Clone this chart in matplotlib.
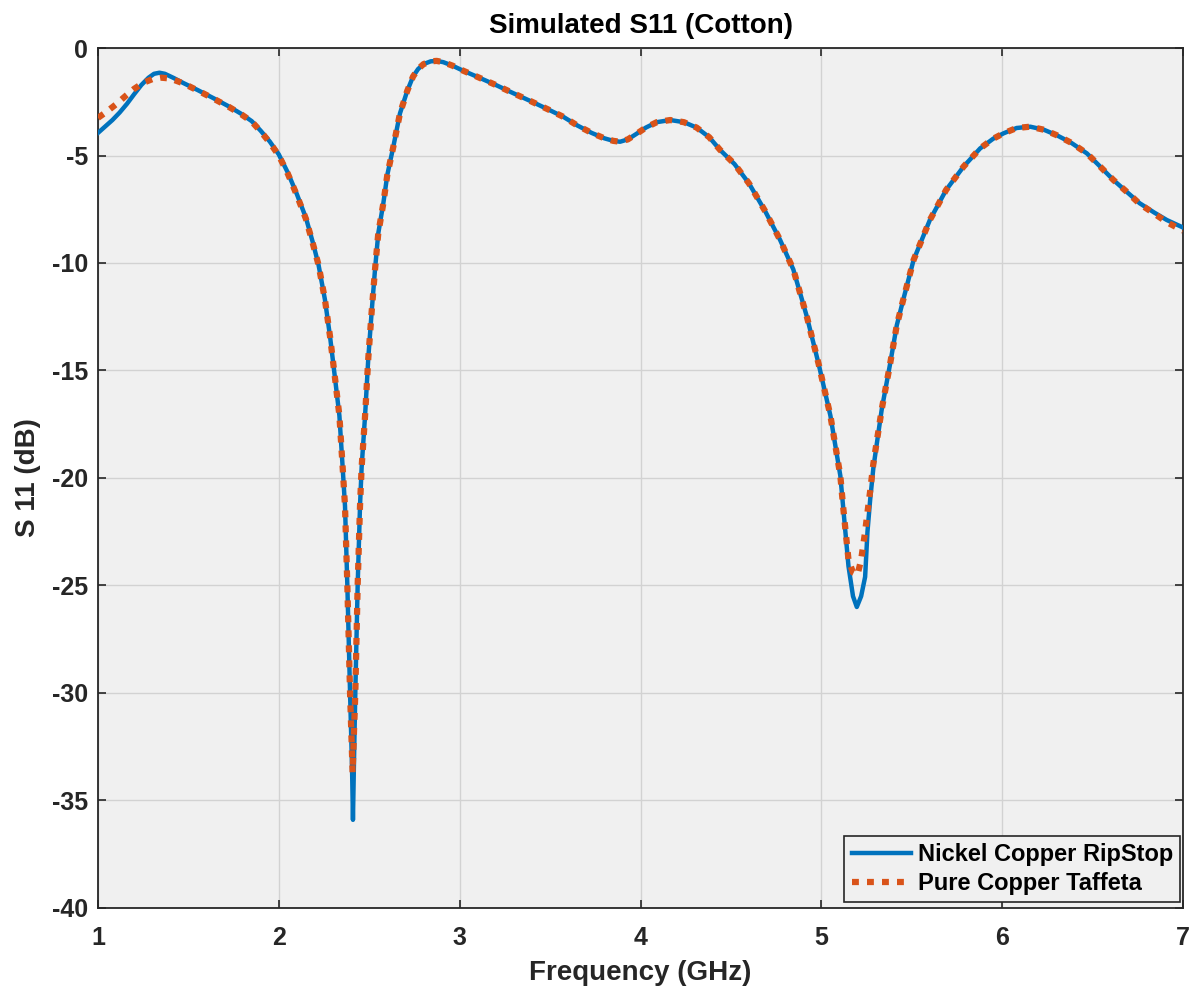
import numpy as np
import matplotlib.pyplot as plt

# Nickel Copper RipStop (solid blue)
freq_ncr = [1.00, 1.04, 1.08, 1.12, 1.16, 1.20, 1.24, 1.28, 1.31, 1.34, 1.37, 1.42, 1.47,
            1.55, 1.64, 1.72, 1.79, 1.85, 1.90, 1.95, 2.00, 2.05, 2.10, 2.15, 2.19, 2.22,
            2.255, 2.283, 2.31, 2.335, 2.353, 2.366, 2.379, 2.394, 2.405, 2.41, 2.415,
            2.423, 2.436, 2.449, 2.458, 2.477, 2.495, 2.514, 2.532, 2.55, 2.578, 2.60,
            2.633, 2.67, 2.71, 2.742, 2.77, 2.80, 2.84, 2.873, 2.91, 2.96, 3.01, 3.10,
            3.20, 3.296, 3.40, 3.50, 3.573, 3.65, 3.73, 3.80, 3.85, 3.887, 3.93, 3.98,
            4.03, 4.09, 4.164, 4.24, 4.31, 4.38, 4.44, 4.52, 4.60, 4.69, 4.772, 4.845,
            4.92, 4.985, 5.05, 5.105, 5.12, 5.15, 5.175, 5.196, 5.22, 5.242, 5.255, 5.27,
            5.288, 5.334, 5.38, 5.417, 5.453, 5.51, 5.60, 5.69, 5.786, 5.878, 5.95, 6.007,
            6.08, 6.155, 6.23, 6.30, 6.38, 6.468, 6.54, 6.615, 6.69, 6.76, 6.84, 6.91, 7.00]
s11_ncr = [-3.95, -3.65, -3.35, -3.0, -2.6, -2.15, -1.72, -1.38, -1.2, -1.15, -1.2, -1.4, -1.62,
           -1.95, -2.34, -2.7, -3.05, -3.4, -3.85, -4.35, -4.95, -5.8, -6.8, -7.9, -9.1, -10.1,
           -11.7, -13.4, -15.3, -17.1, -19.5, -21.3, -25.0, -30.0, -33.5, -35.9, -33.5,
           -30.0, -25.0, -21.3, -19.5, -17.1, -14.4, -12.2, -10.3, -8.62, -7.22, -5.9,
           -4.6, -3.04, -2.0, -1.33, -0.98, -0.75, -0.62, -0.6, -0.66, -0.82, -1.02, -1.35,
           -1.72, -2.1, -2.5, -2.9, -3.2, -3.6, -3.95, -4.2, -4.32, -4.36, -4.25, -3.98,
           -3.7, -3.45, -3.35, -3.45, -3.7, -4.15, -4.74, -5.4, -6.3, -7.6, -8.93, -10.3,
           -12.5, -14.7, -17.1, -19.9, -21.3, -24.1, -25.5, -26.0, -25.5, -24.6, -22.5, -21.0,
           -19.5, -16.8, -14.7, -12.9, -11.7, -9.86, -8.0, -6.6, -5.52, -4.67, -4.22, -3.97,
           -3.72, -3.66, -3.8, -4.05, -4.4, -4.9, -5.5, -6.14, -6.7, -7.22, -7.65, -8.0, -8.35]

# Pure Copper Taffeta (dotted orange)
freq_pct = [1.00, 1.05, 1.10, 1.15, 1.20, 1.25, 1.30, 1.35, 1.40, 1.47, 1.55, 1.64,
            1.72, 1.79, 1.85, 1.90, 1.95, 2.00, 2.05, 2.10, 2.15, 2.19, 2.22, 2.255,
            2.283, 2.31, 2.335, 2.353, 2.366, 2.379, 2.394, 2.408, 2.423,
            2.436, 2.449, 2.458, 2.477, 2.495, 2.514, 2.532, 2.55, 2.578, 2.60, 2.633,
            2.67, 2.71, 2.742, 2.77, 2.80, 2.84, 2.873, 2.91, 2.96, 3.01, 3.10, 3.20,
            3.296, 3.40, 3.50, 3.573, 3.65, 3.73, 3.80, 3.85, 3.887, 3.93, 3.98, 4.03,
            4.09, 4.164, 4.24, 4.31, 4.38, 4.44, 4.52, 4.60, 4.69, 4.772, 4.845, 4.92,
            4.985, 5.05, 5.105, 5.12, 5.15, 5.175, 5.20, 5.22, 5.242, 5.255, 5.27, 5.288,
            5.334, 5.38, 5.417, 5.453, 5.51, 5.60, 5.69, 5.786, 5.878, 5.95, 6.007, 6.08,
            6.155, 6.23, 6.30, 6.38, 6.468, 6.54, 6.615, 6.69, 6.76, 6.84, 6.91, 7.00]
s11_pct = [-3.25, -2.95, -2.62, -2.25, -1.9, -1.62, -1.45, -1.38, -1.42, -1.64, -1.97, -2.36,
           -2.72, -3.07, -3.42, -3.88, -4.4, -5.0, -5.85, -6.85, -7.95, -9.15, -10.1, -11.7,
           -13.4, -15.3, -17.1, -19.5, -21.3, -25.0, -30.0, -33.7, -30.0,
           -25.0, -21.3, -19.5, -17.1, -14.4, -12.2, -10.3, -8.62, -7.22, -5.9, -4.6,
           -3.04, -2.0, -1.33, -0.98, -0.75, -0.62, -0.6, -0.66, -0.82, -1.02, -1.35, -1.72,
           -2.1, -2.5, -2.9, -3.2, -3.6, -3.95, -4.2, -4.32, -4.36, -4.25, -3.98, -3.7,
           -3.45, -3.35, -3.45, -3.7, -4.15, -4.74, -5.4, -6.3, -7.6, -8.93, -10.3, -12.5,
           -14.7, -17.1, -19.9, -21.3, -23.8, -24.4, -24.5, -23.8, -22.5, -21.6, -20.6, -19.3,
           -16.8, -14.7, -12.9, -11.7, -9.86, -8.0, -6.6, -5.52, -4.67, -4.22, -3.97, -3.72,
           -3.66, -3.8, -4.05, -4.4, -4.9, -5.5, -6.14, -6.7, -7.25, -7.7, -8.1, -8.5]

labels = ['Nickel Copper RipStop', 'Pure Copper Taffeta']
x_ticks = [1, 2, 3, 4, 5, 6, 7]
y_ticks = [0, -5, -10, -15, -20, -25, -30, -35, -40]

plt.rcParams['font.family'] = ['Liberation Sans', 'DejaVu Sans']
plt.rcParams['font.weight'] = 'bold'
plt.rcParams['axes.unicode_minus'] = False

fig = plt.figure(figsize=(11.99, 9.98), dpi=100)
ax = fig.add_axes([0.0817, 0.0902, 0.905, 0.8617])
ax.set_facecolor('#f0f0f0')

ax.plot(freq_ncr, s11_ncr, color='#0072BD', lw=3.2, label=labels[0], zorder=3)
ax.plot(freq_pct, s11_pct, color='#D95319', lw=4.5, linestyle=(0, (1.1, 1.3)),
        label=labels[1], zorder=4)

ax.set_xlim(1, 7)
ax.set_ylim(-40, 0)
ax.set_xticks(x_ticks)
ax.set_yticks(y_ticks)
ax.grid(True, color='#d2d2d2', lw=1.0)
ax.set_axisbelow(True)
ax.tick_params(direction='in', length=6, width=1.2, colors='#262626', labelsize=18,
               top=True, right=True)
ax.tick_params(axis='x', pad=13)
ax.tick_params(axis='y', pad=7)
for sp in ax.spines.values():
    sp.set_color('#262626')
    sp.set_linewidth(1.3)

ax.set_xlabel('Frequency (GHz)', fontsize=20, fontweight='bold', color='#262626', labelpad=7)
ax.set_ylabel('S 11 (dB)', fontsize=20, fontweight='bold', color='#262626', labelpad=8)
ax.set_title('Simulated S11 (Cotton)', fontsize=20, fontweight='bold', pad=11)

leg = ax.legend(loc='lower right', bbox_to_anchor=(0.9972, 0.0066), borderaxespad=0,
                fontsize=17, frameon=True, fancybox=False, handlelength=2.5,
                handletextpad=0.3, labelspacing=0.25, borderpad=0.3)
leg.get_frame().set_edgecolor('#262626')
leg.get_frame().set_facecolor('#f0f0f0')
leg.get_frame().set_linewidth(1.2)
leg.get_frame().set_alpha(1)

plt.savefig('out.png', dpi=100)
